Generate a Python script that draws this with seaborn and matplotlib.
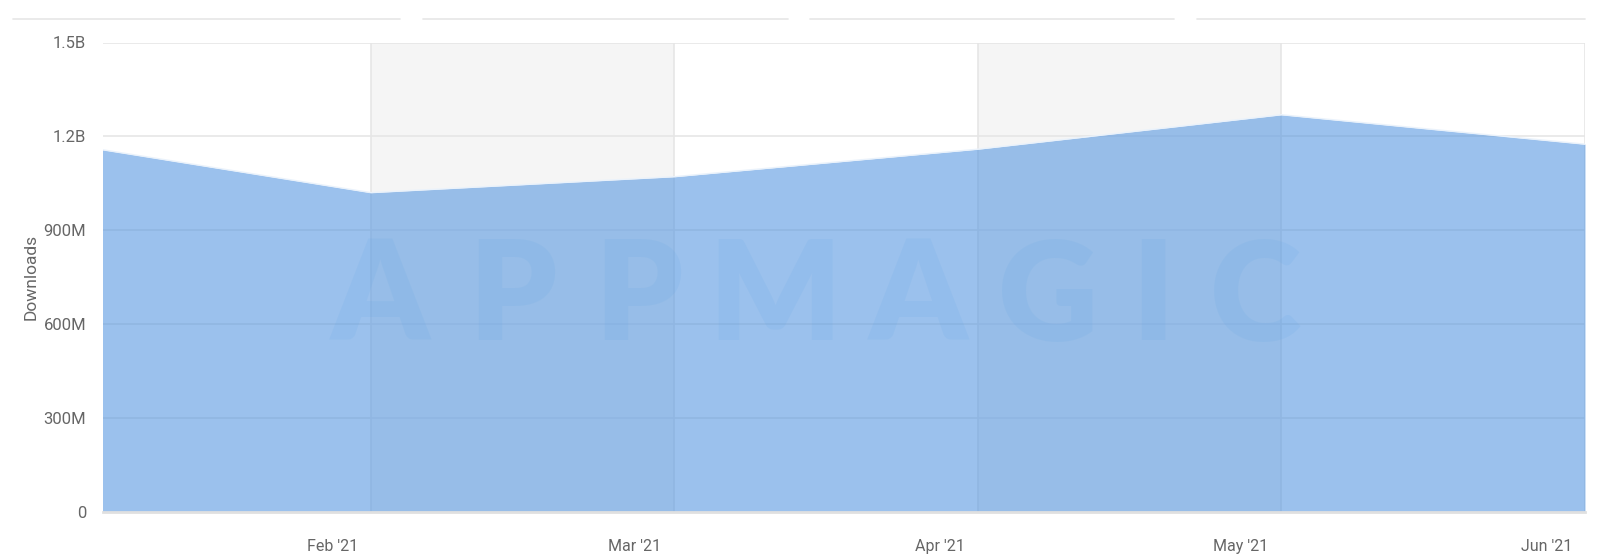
import matplotlib
matplotlib.use("Agg")
import matplotlib.pyplot as plt
import matplotlib.transforms as mtransforms
from matplotlib.lines import Line2D
import seaborn as sns
import pandas as pd

# ---- data (monthly downloads) ----
months = ["Jan '21", "Feb '21", "Mar '21", "Apr '21", "May '21", "Jun '21"]
month_pos = [-1, 0, 1, 2, 3, 4]
downloads = [1.175e9, 1.020e9, 1.071e9, 1.159e9, 1.269e9, 1.175e9]
tick_labels = ["Feb '21", "Mar '21", "Apr '21", "May '21", "Jun '21"]
tick_pos = [0, 1, 2, 3, 4]
y_ticks = [0, 3e8, 6e8, 9e8, 1.2e9, 1.5e9]
y_tick_labels = ["0", "300M", "600M", "900M", "1.2B", "1.5B"]
x_start = -0.883
watermark = "APPMAGIC"

df = pd.DataFrame({"month": months, "pos": month_pos, "downloads": downloads})

sns.set_theme(style="white")
plt.rcParams["font.family"] = ["Roboto", "DejaVu Sans"]

W, H = 1600, 555
fig = plt.figure(figsize=(16, 5.55), dpi=100)
ax = fig.add_axes([103 / W, 1 - 511.7 / H, (1585 - 103) / W, (511.7 - 42.5) / H])

# alternating bands
for a, b in [(0, 1), (2, 3)]:
    ax.axvspan(a, b, color="#f5f5f5", zorder=0, lw=0)

# grid
for yv in y_ticks[1:]:
    ax.axhline(yv, color="#e6e6e6", lw=1.2, zorder=1)
for xv in tick_pos:
    ax.axvline(xv, color="#e6e6e6", lw=1.2, zorder=1)

# watermark letters
letter_x = [380, 512, 638, 775, 918, 1048, 1153, 1255]
for ch, px in zip(watermark, letter_x):
    fig.text(px / W, 1 - 300 / H, ch, ha="center", va="center",
             fontsize=100, fontweight="heavy", family=["Lato", "DejaVu Sans"],
             color="#5aa4e6", alpha=0.12, zorder=2)

# area
sns.lineplot(data=df, x="pos", y="downloads", ax=ax, color="#eaf2fb",
             lw=1.0, zorder=4, legend=False)
ax.fill_between(df["pos"], df["downloads"], 0, color="#4a8fdf", alpha=0.55,
                lw=0, zorder=3)

ax.set_xlim(x_start, 4)
ax.set_ylim(0, 1.5e9)

ax.set_yticks(y_ticks)
ax.set_yticklabels(y_tick_labels)
ax.set_xticks(tick_pos)
ax.set_xticklabels(tick_labels)

for s in ["top", "right", "left"]:
    ax.spines[s].set_visible(False)
ax.spines["bottom"].set_color("#e0e0e0")
ax.spines["bottom"].set_linewidth(2)
ax.spines["bottom"].set_zorder(5)

ax.tick_params(axis="y", length=0, pad=12, labelsize=12, labelcolor="#666666")
ax.tick_params(axis="x", length=15, width=1, color="#ccd6eb", pad=5,
               labelsize=11.5, labelcolor="#666666", direction="out")

offset = mtransforms.ScaledTranslation(-13 / 100, 0, fig.dpi_scale_trans)
for lbl in ax.get_xticklabels():
    lbl.set_horizontalalignment("right")
    lbl.set_transform(lbl.get_transform() + offset)

ax.set_xlabel("")
ax.set_ylabel("Downloads", fontsize=12.5, color="#666666")
ax.yaxis.set_label_coords(-64 / (1585 - 103), 0.5)

# tab underlines above the chart
for x0, x1 in [(13, 400), (423, 788), (810, 1174), (1197, 1585)]:
    fig.add_artist(Line2D([x0 / W, x1 / W], [1 - 19 / H, 1 - 19 / H],
                          color="#e6e6e6", lw=1.2, transform=fig.transFigure))

fig.savefig("out.png", dpi=100, facecolor="white")
